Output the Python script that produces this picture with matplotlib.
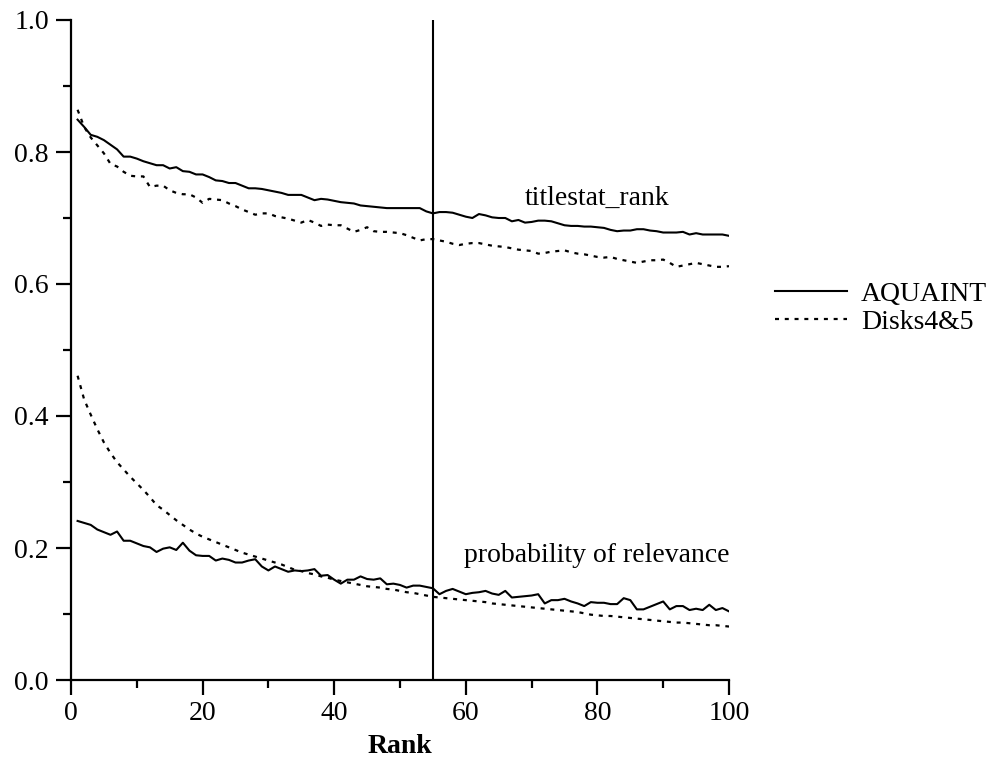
import matplotlib
matplotlib.use("Agg")
import matplotlib.pyplot as plt
from matplotlib.ticker import MultipleLocator
import numpy as np

plt.rcParams['font.family'] = ['Liberation Serif', 'DejaVu Serif']

# Datos (rank 1..100)
rank = np.arange(1, 101)

aquaint_titlestat = [
    0.849, 0.838, 0.826, 0.823, 0.818, 0.811, 0.804, 0.793, 0.793, 0.790,
    0.786, 0.783, 0.780, 0.780, 0.775, 0.777, 0.771, 0.770, 0.766, 0.766,
    0.762, 0.757, 0.756, 0.753, 0.753, 0.749, 0.745, 0.745, 0.744, 0.742,
    0.740, 0.738, 0.735, 0.735, 0.735, 0.731, 0.727, 0.729, 0.728, 0.726,
    0.724, 0.723, 0.722, 0.719, 0.718, 0.717, 0.716, 0.715, 0.715, 0.715,
    0.715, 0.715, 0.715, 0.710, 0.707, 0.709, 0.709, 0.708, 0.705, 0.702,
    0.700, 0.706, 0.704, 0.701, 0.700, 0.700, 0.695, 0.697, 0.693, 0.694,
    0.696, 0.696, 0.695, 0.692, 0.689, 0.688, 0.688, 0.687, 0.687, 0.686,
    0.685, 0.682, 0.680, 0.681, 0.681, 0.683, 0.683, 0.681, 0.680, 0.678,
    0.678, 0.678, 0.679, 0.675, 0.677, 0.675, 0.675, 0.675, 0.675, 0.673,
]

disks_titlestat = [
    0.864, 0.838, 0.822, 0.810, 0.798, 0.782, 0.778, 0.770, 0.764, 0.763,
    0.763, 0.747, 0.749, 0.749, 0.742, 0.738, 0.736, 0.736, 0.731, 0.723,
    0.729, 0.728, 0.727, 0.722, 0.718, 0.713, 0.709, 0.705, 0.707, 0.707,
    0.703, 0.701, 0.699, 0.696, 0.693, 0.697, 0.693, 0.688, 0.690, 0.689,
    0.689, 0.684, 0.679, 0.682, 0.686, 0.680, 0.679, 0.679, 0.678, 0.677,
    0.674, 0.670, 0.666, 0.668, 0.668, 0.666, 0.664, 0.661, 0.659, 0.661,
    0.662, 0.662, 0.660, 0.658, 0.657, 0.656, 0.654, 0.652, 0.651, 0.650,
    0.646, 0.647, 0.649, 0.650, 0.651, 0.648, 0.646, 0.645, 0.643, 0.641,
    0.640, 0.641, 0.638, 0.636, 0.634, 0.632, 0.634, 0.636, 0.636, 0.637,
    0.632, 0.626, 0.628, 0.630, 0.632, 0.630, 0.628, 0.626, 0.626, 0.627,
]

aquaint_prob = [
    0.241, 0.238, 0.235, 0.228, 0.224, 0.220, 0.225, 0.211, 0.211, 0.207,
    0.203, 0.201, 0.194, 0.199, 0.201, 0.197, 0.208, 0.196, 0.189, 0.188,
    0.188, 0.181, 0.184, 0.182, 0.178, 0.178, 0.181, 0.183, 0.172, 0.166,
    0.172, 0.168, 0.164, 0.166, 0.165, 0.166, 0.168, 0.158, 0.159, 0.152,
    0.146, 0.152, 0.152, 0.157, 0.153, 0.152, 0.154, 0.145, 0.146, 0.144,
    0.140, 0.143, 0.143, 0.141, 0.139, 0.130, 0.135, 0.138, 0.134, 0.130,
    0.132, 0.133, 0.135, 0.131, 0.129, 0.135, 0.125, 0.126, 0.127, 0.128,
    0.130, 0.116, 0.121, 0.121, 0.123, 0.119, 0.116, 0.112, 0.118, 0.117,
    0.117, 0.115, 0.115, 0.124, 0.121, 0.107, 0.107, 0.111, 0.115, 0.119,
    0.107, 0.112, 0.112, 0.106, 0.108, 0.106, 0.114, 0.106, 0.109, 0.104,
]

disks_prob = [
    0.461, 0.425, 0.402, 0.380, 0.360, 0.344, 0.330, 0.319, 0.308, 0.298,
    0.288, 0.277, 0.265, 0.258, 0.250, 0.242, 0.235, 0.228, 0.222, 0.217,
    0.213, 0.209, 0.205, 0.201, 0.197, 0.193, 0.190, 0.187, 0.184, 0.181,
    0.178, 0.175, 0.171, 0.167, 0.165, 0.162, 0.160, 0.157, 0.155, 0.152,
    0.150, 0.148, 0.146, 0.144, 0.142, 0.141, 0.140, 0.138, 0.137, 0.135,
    0.133, 0.132, 0.130, 0.128, 0.126, 0.125, 0.124, 0.123, 0.122, 0.121,
    0.120, 0.119, 0.118, 0.116, 0.115, 0.114, 0.113, 0.112, 0.111, 0.110,
    0.109, 0.108, 0.107, 0.106, 0.105, 0.104, 0.103, 0.101, 0.099, 0.098,
    0.097, 0.097, 0.096, 0.095, 0.094, 0.093, 0.092, 0.091, 0.090, 0.089,
    0.088, 0.087, 0.087, 0.086, 0.085, 0.084, 0.083, 0.083, 0.082, 0.081,
]

corte = 55
fs = 20

fig = plt.figure(figsize=(9.9, 7.69), dpi=100)
ax = fig.add_axes([71 / 990, 89 / 769, 658 / 990, 660 / 769])

puntos = (0, (1.8, 2.6))
l1, = ax.plot(rank, aquaint_titlestat, color='black', lw=1.5, label='AQUAINT')
l2, = ax.plot(rank, disks_titlestat, color='black', lw=1.6, linestyle=puntos, label='Disks4&5')
ax.plot(rank, aquaint_prob, color='black', lw=1.5)
ax.plot(rank, disks_prob, color='black', lw=1.6, linestyle=puntos)

ax.axvline(corte, color='black', lw=1.5)

ax.text(80, 0.730, 'titlestat_rank', fontsize=fs, ha='center', va='center')
ax.text(100, 0.189, 'probability of relevance', fontsize=fs, ha='right', va='center')

ax.set_xlim(0, 100)
ax.set_ylim(0, 1.0)
ax.xaxis.set_major_locator(MultipleLocator(20))
ax.xaxis.set_minor_locator(MultipleLocator(10))
ax.yaxis.set_major_locator(MultipleLocator(0.2))
ax.yaxis.set_minor_locator(MultipleLocator(0.1))
ax.yaxis.set_major_formatter(plt.FuncFormatter(lambda v, p: f"{v:.1f}"))

for s in ['top', 'right']:
    ax.spines[s].set_visible(False)
for s in ['left', 'bottom']:
    ax.spines[s].set_linewidth(1.6)

ax.tick_params(which='major', direction='out', length=11, width=1.6, labelsize=fs)
ax.tick_params(which='minor', direction='out', length=5.5, width=1.6)
ax.tick_params(axis='y', which='major', pad=5)
ax.tick_params(axis='x', which='major', pad=4)

ax.set_xlabel('Rank', fontsize=fs, fontweight='bold', labelpad=6)

fig.legend(handles=[l1, l2], loc='center left', bbox_to_anchor=(775 / 990, (769 - 308) / 769),
           frameon=False, fontsize=fs, handlelength=2.6, handletextpad=0.5,
           labelspacing=0.08, borderpad=0, borderaxespad=0)

fig.savefig('out.png', dpi=100)
